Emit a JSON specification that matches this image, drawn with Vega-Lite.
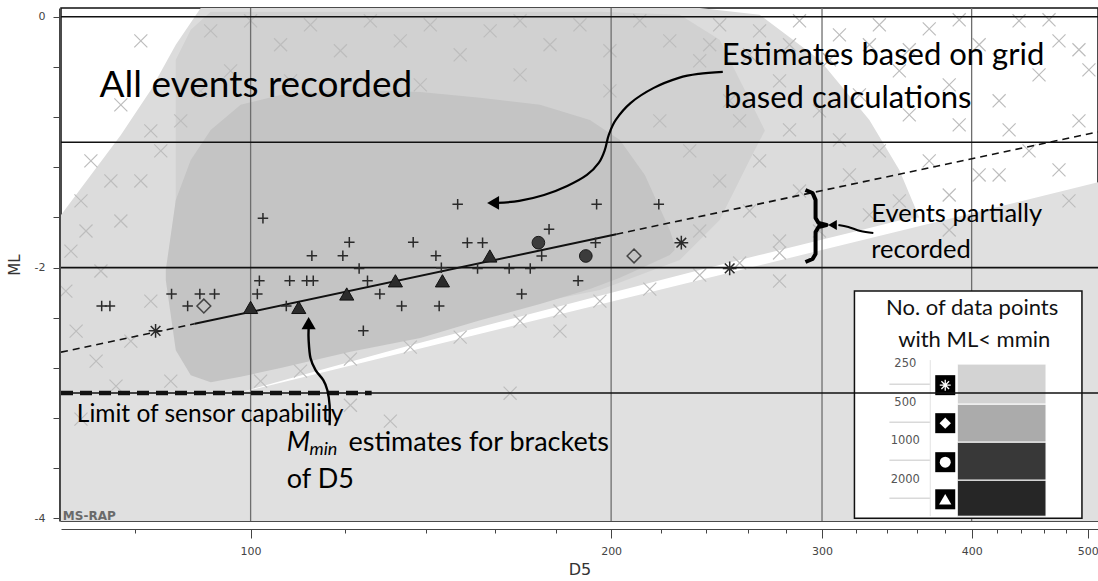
{
"$schema": "https://vega.github.io/schema/vega-lite/v6.json",
"width": 1037, "height": 513,
"autosize": {"type": "none"},
"padding": {"left": 61, "top": 8, "right": 0, "bottom": 60},
"background": "white",
"config": {"view": {"stroke": "#111", "strokeWidth": 1.5}, "font": "Lato"},
"layer": [
{"data": {"values": [{"D5": 69.45, "ML": -3.0}, {"D5": 97.6, "ML": -3.0}, {"D5": 510, "ML": -1.32}]},
 "mark": {"type": "area", "color": "#e0e0e0", "clip": true},
 "encoding": {
  "x": {"field": "D5", "type": "quantitative", "scale": {"type": "log", "domain": [69.45, 510], "nice": false},
   "axis": {"title": "D5", "orient": "bottom", "offset": 8, "grid": false,
    "values": [80,100,120,140,160,180,200,220,240,260,280,300,320,340,360,380,400,420,440,460,480,500],
    "labelExpr": "datum.value % 100 === 0 ? '' + datum.value : ''",
    "tickSize": {"condition": {"test": "datum.value % 100 === 0", "value": 9}, "value": 4},
    "domainColor": "#444", "tickColor": "#444", "labelColor": "#444", "labelFont": "DejaVu Sans", "labelFontSize": 11,
    "labelPadding": 7, "labelFlush": false, "labelOverlap": false,
    "titleFont": "DejaVu Sans", "titleFontSize": 16, "titleFontWeight": "normal", "titleColor": "#333", "titlePadding": 5}},
  "y": {"field": "ML", "type": "quantitative", "scale": {"domain": [-4.02, 0.07], "nice": false, "zero": false},
   "axis": {"title": "ML", "orient": "left", "offset": 2, "grid": false,
    "values": [-4,-3.8,-3.6,-3.4,-3.2,-3,-2.8,-2.6,-2.4,-2.2,-2,-1.8,-1.6,-1.4,-1.2,-1,-0.8,-0.6,-0.4,-0.2,0],
    "labelExpr": "datum.value % 1 === 0 ? '' + datum.value : ''",
    "tickSize": 6, "domainColor": "#444", "tickColor": "#444", "labelColor": "#444", "labelFont": "DejaVu Sans", "labelFontSize": 11,
    "labelPadding": 8, "labelOverlap": false,
    "titleFont": "DejaVu Sans", "titleFontSize": 15, "titleFontWeight": "normal", "titleColor": "#333", "titlePadding": 12}},
  "y2": {"datum": -4.02}}},
{"data": {"values": [
  {"D5": 69.45, "ML": -1.58, "ML2": -3.0}, {"D5": 73.56, "ML": -1.261, "ML2": -3.0}, {"D5": 77.92, "ML": -0.942, "ML2": -3.0},
  {"D5": 82.54, "ML": -0.583, "ML2": -3.0}, {"D5": 86.6, "ML": -0.223, "ML2": -3.0}, {"D5": 90.85, "ML": 0.07, "ML2": -3.0},
  {"D5": 97.6, "ML": 0.07, "ML2": -3.0}, {"D5": 110.07, "ML": 0.07, "ML2": -2.86}, {"D5": 133.35, "ML": 0.07, "ML2": -2.64},
  {"D5": 161.56, "ML": 0.07, "ML2": -2.432}, {"D5": 195.73, "ML": 0.07, "ML2": -2.225}, {"D5": 237.14, "ML": 0.07, "ML2": -2.018},
  {"D5": 266.07, "ML": 0.016, "ML2": -1.9}, {"D5": 298.54, "ML": -0.343, "ML2": -1.782}, {"D5": 328.61, "ML": -0.822, "ML2": -1.684},
  {"D5": 348.08, "ML": -1.221, "ML2": -1.625}, {"D5": 361.69, "ML": -1.6, "ML2": -1.6}]},
 "mark": {"type": "area", "color": "#dcdcdc", "clip": true},
 "encoding": {"x": {"field": "D5", "type": "quantitative"}, "y": {"field": "ML", "type": "quantitative"}, "y2": {"field": "ML2"}}},
{"data": {"values": [
  {"D5": 86.6, "ML": -0.343, "ML2": -1.62}, {"D5": 89.13, "ML": -0.104, "ML2": -2.259}, {"D5": 92.61, "ML": 0.04, "ML2": -2.578},
  {"D5": 98.1, "ML": 0.04, "ML2": -2.658}, {"D5": 133.35, "ML": 0.04, "ML2": -2.498}, {"D5": 195.73, "ML": 0.04, "ML2": -2.179},
  {"D5": 228.21, "ML": 0.016, "ML2": -1.939}, {"D5": 246.41, "ML": -0.184, "ML2": -1.62}, {"D5": 261.02, "ML": -0.662, "ML2": -1.141},
  {"D5": 268.7, "ML": -0.905, "ML2": -0.91}]},
 "mark": {"type": "area", "color": "#d1d1d1", "clip": true},
 "encoding": {"x": {"field": "D5", "type": "quantitative"}, "y": {"field": "ML", "type": "quantitative"}, "y2": {"field": "ML2"}}},
{"data": {"values": [
  {"D5": 84.95, "ML": -2.019, "ML2": -2.099}, {"D5": 86.6, "ML": -1.461, "ML2": -2.658}, {"D5": 89.13, "ML": -1.141, "ML2": -2.857},
  {"D5": 92.61, "ML": -0.902, "ML2": -2.913}, {"D5": 98.1, "ML": -0.702, "ML2": -2.87}, {"D5": 105.93, "ML": -0.623, "ML2": -2.8},
  {"D5": 121.15, "ML": -0.583, "ML2": -2.67}, {"D5": 138.57, "ML": -0.599, "ML2": -2.56}, {"D5": 155.48, "ML": -0.646, "ML2": -2.42},
  {"D5": 174.45, "ML": -0.702, "ML2": -2.29}, {"D5": 192.01, "ML": -0.822, "ML2": -2.17}, {"D5": 203.39, "ML": -0.982, "ML2": -2.08},
  {"D5": 213.4, "ML": -1.261, "ML2": -1.99}, {"D5": 223.87, "ML": -1.7, "ML2": -1.9}, {"D5": 226.0, "ML": -1.82, "ML2": -1.86}]},
 "mark": {"type": "area", "color": "#c4c4c4", "clip": true},
 "encoding": {"x": {"field": "D5", "type": "quantitative"}, "y": {"field": "ML", "type": "quantitative"}, "y2": {"field": "ML2"}}},
{"data": {"values": [
  {"D5": 80.97, "ML": -0.192}, {"D5": 77.92, "ML": -0.702}, {"D5": 82.54, "ML": -0.91}, {"D5": 73.56, "ML": -1.149}, {"D5": 76.44, "ML": -1.309}, {"D5": 72.17, "ML": -1.468},
  {"D5": 246.41, "ML": -0.064}, {"D5": 266.07, "ML": -0.112}, {"D5": 287.3, "ML": -0.032}, {"D5": 310.22, "ML": -0.144}, {"D5": 334.97, "ML": -0.064}, {"D5": 368.69, "ML": -0.096},
  {"D5": 405.82, "ML": -0.223}, {"D5": 438.19, "ML": -0.032}, {"D5": 473.15, "ML": -0.192}, {"D5": 348.08, "ML": -0.431}, {"D5": 383.12, "ML": -0.543}, {"D5": 421.7, "ML": -0.67},
  {"D5": 455.34, "ML": -0.463}, {"D5": 491.66, "ML": -0.83}, {"D5": 322.36, "ML": -0.623}, {"D5": 298.54, "ML": -0.75}, {"D5": 276.48, "ML": -0.511}, {"D5": 256.06, "ML": -0.83},
  {"D5": 334.97, "ML": -1.069}, {"D5": 368.69, "ML": -1.149}, {"D5": 405.82, "ML": -1.261}, {"D5": 446.68, "ML": -1.069}, {"D5": 482.31, "ML": -1.468}, {"D5": 316.23, "ML": -1.261},
  {"D5": 348.08, "ML": -1.468}, {"D5": 383.12, "ML": -1.421}, {"D5": 328.61, "ML": -1.58}, {"D5": 501.19, "ML": -0.423},
  {"D5": 241.73, "ML": -0.223}, {"D5": 261.02, "ML": -0.303}, {"D5": 281.84, "ML": -0.223}, {"D5": 304.33, "ML": -0.343}, {"D5": 328.61, "ML": -0.223}, {"D5": 354.81, "ML": -0.263},
  {"D5": 390.54, "ML": -0.024}, {"D5": 421.7, "ML": -0.343}, {"D5": 464.16, "ML": -0.024}, {"D5": 491.66, "ML": -0.263}, {"D5": 390.54, "ML": -0.862}, {"D5": 429.87, "ML": -0.902},
  {"D5": 354.81, "ML": -0.782}, {"D5": 310.22, "ML": -0.982}, {"D5": 281.84, "ML": -0.902}, {"D5": 383.12, "ML": -1.7}, {"D5": 421.7, "ML": -1.261}, {"D5": 473.15, "ML": -1.221},
  {"D5": 72.17, "ML": -3.208}, {"D5": 121.15, "ML": -3.097}, {"D5": 130.82, "ML": -3.224}, {"D5": 164.69, "ML": -3.001}, {"D5": 276.48, "ML": -2.107}, {"D5": 181.27, "ML": -2.506},
  {"D5": 92.61, "ML": -0.112}, {"D5": 100, "ML": -0.032}, {"D5": 105.93, "ML": -0.223}, {"D5": 112.2, "ML": -0.064}, {"D5": 118.85, "ML": -0.271}, {"D5": 125.89, "ML": -0.032},
  {"D5": 133.35, "ML": -0.192}, {"D5": 141.25, "ML": -0.064}, {"D5": 149.62, "ML": -0.303}, {"D5": 158.49, "ML": -0.112}, {"D5": 167.88, "ML": -0.032}, {"D5": 177.83, "ML": -0.223},
  {"D5": 188.36, "ML": -0.064}, {"D5": 199.53, "ML": -0.271}, {"D5": 211.35, "ML": -0.032}, {"D5": 223.87, "ML": -0.192}, {"D5": 237.14, "ML": -0.351}, {"D5": 96.23, "ML": -0.431},
  {"D5": 107.98, "ML": -0.511}, {"D5": 138.57, "ML": -0.543}, {"D5": 167.88, "ML": -0.463}, {"D5": 199.53, "ML": -0.591},
  {"D5": 70.79, "ML": -1.868}, {"D5": 72.87, "ML": -1.708}, {"D5": 74.99, "ML": -2.027}, {"D5": 77.92, "ML": -1.628}, {"D5": 80.97, "ML": -1.309}, {"D5": 84.14, "ML": -1.069},
  {"D5": 71.5, "ML": -2.506}, {"D5": 74.3, "ML": -2.745}, {"D5": 79.43, "ML": -2.586}, {"D5": 82.54, "ML": -2.267}, {"D5": 85.77, "ML": -2.905}, {"D5": 77.2, "ML": -2.945},
  {"D5": 70.1, "ML": -2.187}, {"D5": 87.43, "ML": -0.83}, {"D5": 90.85, "ML": -0.591},
  {"D5": 101.94, "ML": -2.905}, {"D5": 110.07, "ML": -2.825}, {"D5": 121.15, "ML": -2.729}, {"D5": 135.94, "ML": -2.634}, {"D5": 149.62, "ML": -2.554}, {"D5": 167.88, "ML": -2.426},
  {"D5": 181.27, "ML": -2.346}, {"D5": 195.73, "ML": -2.267}, {"D5": 215.44, "ML": -2.171}, {"D5": 237.14, "ML": -2.059}, {"D5": 256.06, "ML": -1.963}, {"D5": 276.48, "ML": -1.883},
  {"D5": 219.62, "ML": -0.83}, {"D5": 232.63, "ML": -1.069}, {"D5": 246.41, "ML": -1.309}, {"D5": 261.02, "ML": -1.548}, {"D5": 237.14, "ML": -1.708}, {"D5": 266.07, "ML": -1.149},
  {"D5": 287.3, "ML": -1.389}, {"D5": 298.54, "ML": -1.708}, {"D5": 276.48, "ML": -1.788}, {"D5": 251.19, "ML": -0.67}]},
 "mark": {"type": "point", "shape": "M-1,-1L1,1M-1,1L1,-1", "filled": false, "color": "#bdbdbd", "strokeWidth": 1.2, "size": 170, "opacity": 1, "clip": true},
 "encoding": {"x": {"field": "D5", "type": "quantitative"}, "y": {"field": "ML", "type": "quantitative"}}},
{"data": {"values": [{"D5": 100}, {"D5": 200}, {"D5": 300}, {"D5": 400}]},
 "mark": {"type": "rule", "color": "#6e6e6e", "strokeWidth": 1.3},
 "encoding": {"x": {"field": "D5", "type": "quantitative"}}},
{"data": {"values": [{"ML": 0}, {"ML": -1}, {"ML": -2}]},
 "mark": {"type": "rule", "color": "#111", "strokeWidth": 1.6},
 "encoding": {"y": {"field": "ML", "type": "quantitative"}}},
{"data": {"values": [{"D5": 319.3, "D5b": 494.5, "ML": -2.187, "MLb": -3.998}]},
 "mark": {"type": "rect", "fill": "white", "stroke": "#111", "strokeWidth": 1.5},
 "encoding": {"x": {"field": "D5", "type": "quantitative"}, "x2": {"field": "D5b"}, "y": {"field": "ML", "type": "quantitative"}, "y2": {"field": "MLb"}}},
{"data": {"values": [{"D5": 341.5, "D5b": 369.4, "ML": -2.929}, {"D5": 341.5, "D5b": 369.4, "ML": -3.232}, {"D5": 341.5, "D5b": 369.4, "ML": -3.536}, {"D5": 341.5, "D5b": 369.4, "ML": -3.839}]},
 "mark": {"type": "rule", "color": "#d9d9d9", "strokeWidth": 1.5},
 "encoding": {"x": {"field": "D5", "type": "quantitative"}, "x2": {"field": "D5b"}, "y": {"field": "ML", "type": "quantitative"}}},
{"data": {"values": [{"D5": 369.4, "ML": -2.737, "MLb": -3.982}]},
 "mark": {"type": "rule", "color": "#e2e2e2", "strokeWidth": 1},
 "encoding": {"x": {"field": "D5", "type": "quantitative"}, "y": {"field": "ML", "type": "quantitative"}, "y2": {"field": "MLb"}}},
{"data": {"values": [
  {"n": "250", "D5": 389.1, "D5b": 461.5, "ML": -2.769, "MLb": -3.089},
  {"n": "500", "D5": 389.1, "D5b": 461.5, "ML": -3.089, "MLb": -3.392},
  {"n": "1000", "D5": 389.1, "D5b": 461.5, "ML": -3.392, "MLb": -3.695},
  {"n": "2000", "D5": 389.1, "D5b": 461.5, "ML": -3.695, "MLb": -3.982}]},
 "mark": {"type": "rect", "stroke": "white", "strokeWidth": 1},
 "encoding": {"x": {"field": "D5", "type": "quantitative"}, "x2": {"field": "D5b"}, "y": {"field": "ML", "type": "quantitative"}, "y2": {"field": "MLb"},
  "color": {"field": "n", "type": "nominal", "scale": {"domain": ["250", "500", "1000", "2000"], "range": ["#d3d3d3", "#ababab", "#383838", "#262626"]}, "legend": null}}},
{"data": {"values": [{"D5": 380.2, "ML": -2.937}, {"D5": 380.2, "ML": -3.24}, {"D5": 380.2, "ML": -3.551}, {"D5": 380.2, "ML": -3.847}]},
 "mark": {"type": "point", "shape": "square", "filled": true, "color": "#000", "size": 400, "opacity": 1},
 "encoding": {"x": {"field": "D5", "type": "quantitative"}, "y": {"field": "ML", "type": "quantitative"}}},
{"data": {"values": [{"D5": 380.2, "ML": -2.937}]},
 "mark": {"type": "point", "shape": "M-1,0L1,0M0,-1L0,1M-0.7,-0.7L0.7,0.7M-0.7,0.7L0.7,-0.7", "filled": false, "color": "white", "strokeWidth": 1.3, "size": 120, "opacity": 1},
 "encoding": {"x": {"field": "D5", "type": "quantitative"}, "y": {"field": "ML", "type": "quantitative"}}},
{"data": {"values": [{"D5": 380.2, "ML": -3.24}]},
 "mark": {"type": "point", "shape": "diamond", "filled": true, "color": "white", "size": 130, "opacity": 1},
 "encoding": {"x": {"field": "D5", "type": "quantitative"}, "y": {"field": "ML", "type": "quantitative"}}},
{"data": {"values": [{"D5": 380.2, "ML": -3.551}]},
 "mark": {"type": "point", "shape": "circle", "filled": true, "color": "white", "size": 120, "opacity": 1},
 "encoding": {"x": {"field": "D5", "type": "quantitative"}, "y": {"field": "ML", "type": "quantitative"}}},
{"data": {"values": [{"D5": 380.2, "ML": -3.847}]},
 "mark": {"type": "point", "shape": "triangle-up", "filled": true, "color": "white", "size": 150, "opacity": 1},
 "encoding": {"x": {"field": "D5", "type": "quantitative"}, "y": {"field": "ML", "type": "quantitative"}}},
{"data": {"values": [{"D5": 352.1, "ML": -2.769, "t": "250"}, {"D5": 352.1, "ML": -3.081, "t": "500"}, {"D5": 352.1, "ML": -3.384, "t": "1000"}, {"D5": 352.1, "ML": -3.695, "t": "2000"}]},
 "mark": {"type": "text", "font": "DejaVu Sans", "fontSize": 11.5, "color": "#555", "align": "center", "baseline": "middle"},
 "encoding": {"x": {"field": "D5", "type": "quantitative"}, "y": {"field": "ML", "type": "quantitative"}, "text": {"field": "t"}}},
{"data": {"values": [{"D5": 400.4, "ML": -2.378, "t": "No. of data points"}, {"D5": 402, "ML": -2.634, "t": "with ML< mmin"}]},
 "mark": {"type": "text", "font": "Lato", "fontSize": 22, "color": "#111", "align": "center", "baseline": "alphabetic"},
 "encoding": {"x": {"field": "D5", "type": "quantitative"}, "y": {"field": "ML", "type": "quantitative"}, "text": {"field": "t"}}},
{"data": {"values": [{"ML": -3}]},
 "mark": {"type": "rule", "color": "#111", "strokeWidth": 1.6},
 "encoding": {"y": {"field": "ML", "type": "quantitative"}}},
{"data": {"values": [{"D5": 69.45, "ML": -3}, {"D5": 126.2, "ML": -3}]},
 "mark": {"type": "line", "color": "#111", "strokeWidth": 4.5, "strokeDash": [12, 7], "clip": true},
 "encoding": {"x": {"field": "D5", "type": "quantitative"}, "y": {"field": "ML", "type": "quantitative"}}},
{"data": {"values": [{"D5": 89.8, "ML": -2.448}, {"D5": 202, "ML": -1.734}]},
 "mark": {"type": "line", "color": "#111", "strokeWidth": 2},
 "encoding": {"x": {"field": "D5", "type": "quantitative"}, "y": {"field": "ML", "type": "quantitative"}}},
{"data": {"values": [{"D5": 69.45, "ML": -2.674, "s": "a"}, {"D5": 89.8, "ML": -2.448, "s": "a"}, {"D5": 202, "ML": -1.734, "s": "b"}, {"D5": 510, "ML": -0.918, "s": "b"}]},
 "mark": {"type": "line", "color": "#111", "strokeWidth": 1.6, "strokeDash": [7, 5], "clip": true},
 "encoding": {"x": {"field": "D5", "type": "quantitative"}, "y": {"field": "ML", "type": "quantitative"}, "detail": {"field": "s"}}},
{"data": {"values": [
  {"D5": 102.4, "ML": -1.607}, {"D5": 120.9, "ML": -1.798}, {"D5": 136.7, "ML": -1.798}, {"D5": 112.5, "ML": -1.905}, {"D5": 119.4, "ML": -1.905},
  {"D5": 142.8, "ML": -1.905}, {"D5": 123.2, "ML": -2.006}, {"D5": 144.3, "ML": -2.001}, {"D5": 101.7, "ML": -2.105}, {"D5": 107.8, "ML": -2.105},
  {"D5": 111.4, "ML": -2.105}, {"D5": 112.8, "ML": -2.105}, {"D5": 125.2, "ML": -2.105}, {"D5": 85.9, "ML": -2.21}, {"D5": 90.7, "ML": -2.21},
  {"D5": 93.3, "ML": -2.21}, {"D5": 101.3, "ML": -2.21}, {"D5": 128.2, "ML": -2.21}, {"D5": 75.1, "ML": -2.306}, {"D5": 76.3, "ML": -2.306},
  {"D5": 88.6, "ML": -2.306}, {"D5": 107.1, "ML": -2.306}, {"D5": 133.7, "ML": -2.306}, {"D5": 143.7, "ML": -2.306}, {"D5": 124.2, "ML": -2.504},
  {"D5": 148.9, "ML": -1.495}, {"D5": 194.5, "ML": -1.495}, {"D5": 219.2, "ML": -1.495}, {"D5": 177.5, "ML": -1.694}, {"D5": 151.7, "ML": -1.801},
  {"D5": 156.2, "ML": -1.801}, {"D5": 194.1, "ML": -1.801}, {"D5": 175, "ML": -1.907}, {"D5": 154.7, "ML": -2.006}, {"D5": 164.4, "ML": -2.006},
  {"D5": 171.2, "ML": -2.006}, {"D5": 187.7, "ML": -2.105}, {"D5": 168.4, "ML": -2.21}]},
 "mark": {"type": "point", "shape": "M-1,0L1,0M0,-1L0,1", "filled": false, "color": "#2a2a2a", "strokeWidth": 1.5, "size": 110, "opacity": 1},
 "encoding": {"x": {"field": "D5", "type": "quantitative"}, "y": {"field": "ML", "type": "quantitative"}}},
{"data": {"values": [{"D5": 100, "ML": -2.317}, {"D5": 109.7, "ML": -2.317}, {"D5": 120.3, "ML": -2.21}, {"D5": 132.1, "ML": -2.105}, {"D5": 144.6, "ML": -2.105}, {"D5": 158.4, "ML": -1.907}]},
 "mark": {"type": "point", "shape": "triangle-up", "filled": true, "color": "#2b2b2b", "stroke": "#111", "strokeWidth": 1, "size": 200, "opacity": 1},
 "encoding": {"x": {"field": "D5", "type": "quantitative"}, "y": {"field": "ML", "type": "quantitative"}}},
{"data": {"values": [{"D5": 173.9, "ML": -1.801}, {"D5": 190.5, "ML": -1.907}]},
 "mark": {"type": "point", "shape": "circle", "filled": true, "color": "#3c3c3c", "stroke": "#1a1a1a", "strokeWidth": 1, "size": 160, "opacity": 1},
 "encoding": {"x": {"field": "D5", "type": "quantitative"}, "y": {"field": "ML", "type": "quantitative"}}},
{"data": {"values": [{"D5": 91.4, "ML": -2.306}, {"D5": 209, "ML": -1.907}]},
 "mark": {"type": "point", "shape": "diamond", "filled": false, "color": "#444", "strokeWidth": 1.5, "size": 190, "opacity": 1},
 "encoding": {"x": {"field": "D5", "type": "quantitative"}, "y": {"field": "ML", "type": "quantitative"}}},
{"data": {"values": [{"D5": 83.3, "ML": -2.504}, {"D5": 228.9, "ML": -1.801}, {"D5": 251.2, "ML": -2.006}]},
 "mark": {"type": "point", "shape": "M-1,0L1,0M0,-1L0,1M-0.7,-0.7L0.7,0.7M-0.7,0.7L0.7,-0.7", "filled": false, "color": "#2a2a2a", "strokeWidth": 1.5, "size": 190, "opacity": 1},
 "encoding": {"x": {"field": "D5", "type": "quantitative"}, "y": {"field": "ML", "type": "quantitative"}}},
{"data": {"values": [
  {"i": 1, "D5": 247.9, "ML": -0.439}, {"i": 2, "D5": 236.7, "ML": -0.455}, {"i": 3, "D5": 227.8, "ML": -0.487}, {"i": 4, "D5": 217.1, "ML": -0.567},
  {"i": 5, "D5": 207.7, "ML": -0.686}, {"i": 6, "D5": 201.8, "ML": -0.822}, {"i": 7, "D5": 199.1, "ML": -0.942}, {"i": 8, "D5": 197.6, "ML": -1.061},
  {"i": 9, "D5": 195.3, "ML": -1.165}, {"i": 10, "D5": 190.9, "ML": -1.261}, {"i": 11, "D5": 183.8, "ML": -1.349}, {"i": 12, "D5": 175.8, "ML": -1.421},
  {"i": 13, "D5": 167.6, "ML": -1.468}, {"i": 14, "D5": 160.6, "ML": -1.484}]},
 "mark": {"type": "line", "color": "#000", "strokeWidth": 2.2, "interpolate": "cardinal"},
 "encoding": {"x": {"field": "D5", "type": "quantitative"}, "y": {"field": "ML", "type": "quantitative"}, "order": {"field": "i", "type": "quantitative"}}},
{"data": {"values": [
  {"i": 1, "D5": 116.4, "ML": -3.256}, {"i": 2, "D5": 116.4, "ML": -3.097}, {"i": 3, "D5": 115.9, "ML": -2.977}, {"i": 4, "D5": 115.0, "ML": -2.897},
  {"i": 5, "D5": 113.3, "ML": -2.817}, {"i": 6, "D5": 112.2, "ML": -2.721}, {"i": 7, "D5": 111.8, "ML": -2.578}, {"i": 8, "D5": 111.8, "ML": -2.482}]},
 "mark": {"type": "line", "color": "#000", "strokeWidth": 2.4, "interpolate": "cardinal"},
 "encoding": {"x": {"field": "D5", "type": "quantitative"}, "y": {"field": "ML", "type": "quantitative"}, "order": {"field": "i", "type": "quantitative"}}},
{"data": {"values": [
  {"i": 1, "D5": 290.6, "ML": -1.381}, {"i": 2, "D5": 294.6, "ML": -1.405}, {"i": 3, "D5": 296.3, "ML": -1.46}, {"i": 4, "D5": 296.3, "ML": -1.604},
  {"i": 5, "D5": 298.0, "ML": -1.644}, {"i": 6, "D5": 302.6, "ML": -1.66}, {"i": 7, "D5": 298.0, "ML": -1.676}, {"i": 8, "D5": 296.3, "ML": -1.716},
  {"i": 9, "D5": 296.3, "ML": -1.891}, {"i": 10, "D5": 294.6, "ML": -1.931}, {"i": 11, "D5": 290.6, "ML": -1.955}]},
 "mark": {"type": "line", "color": "#000", "strokeWidth": 4, "strokeJoin": "round"},
 "encoding": {"x": {"field": "D5", "type": "quantitative"}, "y": {"field": "ML", "type": "quantitative"}, "order": {"field": "i", "type": "quantitative"}}},
{"data": {"values": [{"i": 1, "D5": 331.1, "ML": -1.724}, {"i": 2, "D5": 323.0, "ML": -1.708}, {"i": 3, "D5": 315.6, "ML": -1.676}, {"i": 4, "D5": 309.6, "ML": -1.66}]},
 "mark": {"type": "line", "color": "#000", "strokeWidth": 2, "interpolate": "cardinal"},
 "encoding": {"x": {"field": "D5", "type": "quantitative"}, "y": {"field": "ML", "type": "quantitative"}, "order": {"field": "i", "type": "quantitative"}}},
{"data": {"values": [{"D5": 159.4, "ML": -1.484}]},
 "mark": {"type": "point", "shape": "triangle-left", "filled": true, "color": "#000", "size": 190, "opacity": 1},
 "encoding": {"x": {"field": "D5", "type": "quantitative"}, "y": {"field": "ML", "type": "quantitative"}}},
{"data": {"values": [{"D5": 111.8, "ML": -2.442}]},
 "mark": {"type": "point", "shape": "triangle-up", "filled": true, "color": "#000", "size": 200, "opacity": 1},
 "encoding": {"x": {"field": "D5", "type": "quantitative"}, "y": {"field": "ML", "type": "quantitative"}}},
{"data": {"values": [{"D5": 306.1, "ML": -1.66}]},
 "mark": {"type": "point", "shape": "triangle-left", "filled": true, "color": "#000", "size": 100, "opacity": 1},
 "encoding": {"x": {"field": "D5", "type": "quantitative"}, "y": {"field": "ML", "type": "quantitative"}}},
{"data": {"values": [{"D5": 74.8, "ML": -0.638, "t": "All events recorded"}]},
 "mark": {"type": "text", "font": "Lato", "fontSize": 37, "color": "#000", "align": "left", "baseline": "alphabetic"},
 "encoding": {"x": {"field": "D5", "type": "quantitative"}, "y": {"field": "ML", "type": "quantitative"}, "text": {"field": "t"}}},
{"data": {"values": [{"D5": 247.4, "ML": -0.383, "t": "Estimates based on grid"}, {"D5": 248.5, "ML": -0.726, "t": "based calculations"}]},
 "mark": {"type": "text", "font": "Lato", "fontSize": 31, "color": "#000", "align": "left", "baseline": "alphabetic"},
 "encoding": {"x": {"field": "D5", "type": "quantitative"}, "y": {"field": "ML", "type": "quantitative"}, "text": {"field": "t"}}},
{"data": {"values": [{"D5": 329.8, "ML": -1.636, "t": "Events partially"}, {"D5": 329.8, "ML": -1.923, "t": "recorded"}]},
 "mark": {"type": "text", "font": "Lato", "fontSize": 25.5, "color": "#000", "align": "left", "baseline": "alphabetic"},
 "encoding": {"x": {"field": "D5", "type": "quantitative"}, "y": {"field": "ML", "type": "quantitative"}, "text": {"field": "t"}}},
{"data": {"values": [{"D5": 71.6, "ML": -3.232, "t": "Limit of sensor capability"}]},
 "mark": {"type": "text", "font": "Lato", "fontSize": 24.5, "color": "#000", "align": "left", "baseline": "alphabetic"},
 "encoding": {"x": {"field": "D5", "type": "quantitative"}, "y": {"field": "ML", "type": "quantitative"}, "text": {"field": "t"}}},
{"data": {"values": [{"D5": 107.2, "ML": -3.464, "t": "M"}]},
 "mark": {"type": "text", "font": "Lato", "fontSize": 27, "fontStyle": "italic", "color": "#000", "align": "left", "baseline": "alphabetic"},
 "encoding": {"x": {"field": "D5", "type": "quantitative"}, "y": {"field": "ML", "type": "quantitative"}, "text": {"field": "t"}}},
{"data": {"values": [{"D5": 112.0, "ML": -3.49, "t": "min"}]},
 "mark": {"type": "text", "font": "Lato", "fontSize": 18, "fontStyle": "italic", "color": "#000", "align": "left", "baseline": "alphabetic"},
 "encoding": {"x": {"field": "D5", "type": "quantitative"}, "y": {"field": "ML", "type": "quantitative"}, "text": {"field": "t"}}},
{"data": {"values": [{"D5": 120.7, "ML": -3.464, "t": "estimates for brackets"}, {"D5": 107.2, "ML": -3.759, "t": "of D5"}]},
 "mark": {"type": "text", "font": "Lato", "fontSize": 27, "color": "#000", "align": "left", "baseline": "alphabetic"},
 "encoding": {"x": {"field": "D5", "type": "quantitative"}, "y": {"field": "ML", "type": "quantitative"}, "text": {"field": "t"}}},
{"data": {"values": [{"D5": 69.7, "ML": -4.015, "t": "MS-RAP"}]},
 "mark": {"type": "text", "font": "DejaVu Sans", "fontSize": 12, "fontWeight": "bold", "color": "#6a6a6a", "align": "left", "baseline": "alphabetic"},
 "encoding": {"x": {"field": "D5", "type": "quantitative"}, "y": {"field": "ML", "type": "quantitative"}, "text": {"field": "t"}}}
]
}
